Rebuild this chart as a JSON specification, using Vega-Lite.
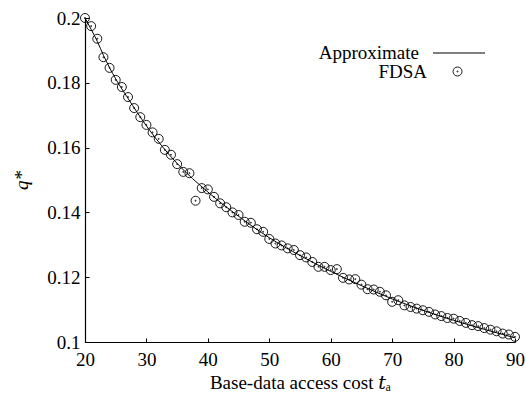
{
  "$schema": "https://vega.github.io/schema/vega-lite/v6.json",
  "autosize": "none",
  "width": 430,
  "height": 324,
  "padding": {"left": 85, "top": 18, "right": 11, "bottom": 54},
  "background": "white",
  "config": {
    "view": {"stroke": null},
    "font": "Liberation Serif, DejaVu Serif, serif",
    "axis": {
      "labelFont": "Liberation Serif, DejaVu Serif, serif",
      "titleFont": "Liberation Serif, DejaVu Serif, serif",
      "labelFontSize": 19,
      "titleFontSize": 19,
      "labelColor": "black",
      "titleColor": "black",
      "titleFontWeight": "normal",
      "domainColor": "black",
      "domainWidth": 1.2,
      "tickColor": "black",
      "tickWidth": 1,
      "tickSize": -4,
      "labelFlush": false,
      "grid": false
    },
    "legend": {
      "labelFont": "Liberation Serif, DejaVu Serif, serif",
      "labelFontSize": 19,
      "labelColor": "black",
      "padding": 0
    }
  },
  "datasets": {
    "approx": [
      {"t": 20, "q": 0.2000, "series": "Approximate"},
      {"t": 21, "q": 0.1965, "series": "Approximate"},
      {"t": 22, "q": 0.1928, "series": "Approximate"},
      {"t": 23, "q": 0.1885, "series": "Approximate"},
      {"t": 25, "q": 0.1812, "series": "Approximate"},
      {"t": 27, "q": 0.1752, "series": "Approximate"},
      {"t": 30, "q": 0.1667, "series": "Approximate"},
      {"t": 35, "q": 0.1551, "series": "Approximate"},
      {"t": 40, "q": 0.1463, "series": "Approximate"},
      {"t": 45, "q": 0.1388, "series": "Approximate"},
      {"t": 50, "q": 0.1322, "series": "Approximate"},
      {"t": 55, "q": 0.1267, "series": "Approximate"},
      {"t": 60, "q": 0.1218, "series": "Approximate"},
      {"t": 65, "q": 0.1174, "series": "Approximate"},
      {"t": 70, "q": 0.1133, "series": "Approximate"},
      {"t": 75, "q": 0.1098, "series": "Approximate"},
      {"t": 80, "q": 0.1067, "series": "Approximate"},
      {"t": 85, "q": 0.1039, "series": "Approximate"},
      {"t": 90, "q": 0.1013, "series": "Approximate"}
    ],
    "fdsa": [
      {"t": 20, "q": 0.2000, "series": "FDSA"},
      {"t": 21, "q": 0.1975, "series": "FDSA"},
      {"t": 22, "q": 0.1936, "series": "FDSA"},
      {"t": 23, "q": 0.1879, "series": "FDSA"},
      {"t": 24, "q": 0.1846, "series": "FDSA"},
      {"t": 25, "q": 0.1809, "series": "FDSA"},
      {"t": 26, "q": 0.1787, "series": "FDSA"},
      {"t": 27, "q": 0.1756, "series": "FDSA"},
      {"t": 28, "q": 0.1722, "series": "FDSA"},
      {"t": 29, "q": 0.1694, "series": "FDSA"},
      {"t": 30, "q": 0.1670, "series": "FDSA"},
      {"t": 31, "q": 0.1647, "series": "FDSA"},
      {"t": 32, "q": 0.1627, "series": "FDSA"},
      {"t": 33, "q": 0.1593, "series": "FDSA"},
      {"t": 34, "q": 0.1578, "series": "FDSA"},
      {"t": 35, "q": 0.1549, "series": "FDSA"},
      {"t": 36, "q": 0.1525, "series": "FDSA"},
      {"t": 37, "q": 0.1521, "series": "FDSA"},
      {"t": 38, "q": 0.1436, "series": "FDSA"},
      {"t": 39, "q": 0.1475, "series": "FDSA"},
      {"t": 40, "q": 0.1471, "series": "FDSA"},
      {"t": 41, "q": 0.1448, "series": "FDSA"},
      {"t": 42, "q": 0.1428, "series": "FDSA"},
      {"t": 43, "q": 0.1416, "series": "FDSA"},
      {"t": 44, "q": 0.1400, "series": "FDSA"},
      {"t": 45, "q": 0.1392, "series": "FDSA"},
      {"t": 46, "q": 0.1371, "series": "FDSA"},
      {"t": 47, "q": 0.1368, "series": "FDSA"},
      {"t": 48, "q": 0.1348, "series": "FDSA"},
      {"t": 49, "q": 0.1340, "series": "FDSA"},
      {"t": 50, "q": 0.1318, "series": "FDSA"},
      {"t": 51, "q": 0.1304, "series": "FDSA"},
      {"t": 52, "q": 0.1298, "series": "FDSA"},
      {"t": 53, "q": 0.1289, "series": "FDSA"},
      {"t": 54, "q": 0.1284, "series": "FDSA"},
      {"t": 55, "q": 0.1268, "series": "FDSA"},
      {"t": 56, "q": 0.1261, "series": "FDSA"},
      {"t": 57, "q": 0.1247, "series": "FDSA"},
      {"t": 58, "q": 0.1232, "series": "FDSA"},
      {"t": 59, "q": 0.1232, "series": "FDSA"},
      {"t": 60, "q": 0.1222, "series": "FDSA"},
      {"t": 61, "q": 0.1225, "series": "FDSA"},
      {"t": 62, "q": 0.1198, "series": "FDSA"},
      {"t": 63, "q": 0.1193, "series": "FDSA"},
      {"t": 64, "q": 0.1194, "series": "FDSA"},
      {"t": 65, "q": 0.1177, "series": "FDSA"},
      {"t": 66, "q": 0.1163, "series": "FDSA"},
      {"t": 67, "q": 0.1162, "series": "FDSA"},
      {"t": 68, "q": 0.1155, "series": "FDSA"},
      {"t": 69, "q": 0.1144, "series": "FDSA"},
      {"t": 70, "q": 0.1124, "series": "FDSA"},
      {"t": 71, "q": 0.1129, "series": "FDSA"},
      {"t": 72, "q": 0.1113, "series": "FDSA"},
      {"t": 73, "q": 0.1108, "series": "FDSA"},
      {"t": 74, "q": 0.1103, "series": "FDSA"},
      {"t": 75, "q": 0.1098, "series": "FDSA"},
      {"t": 76, "q": 0.1093, "series": "FDSA"},
      {"t": 77, "q": 0.1085, "series": "FDSA"},
      {"t": 78, "q": 0.1080, "series": "FDSA"},
      {"t": 79, "q": 0.1074, "series": "FDSA"},
      {"t": 80, "q": 0.1072, "series": "FDSA"},
      {"t": 81, "q": 0.1065, "series": "FDSA"},
      {"t": 82, "q": 0.1059, "series": "FDSA"},
      {"t": 83, "q": 0.1052, "series": "FDSA"},
      {"t": 84, "q": 0.1049, "series": "FDSA"},
      {"t": 85, "q": 0.1043, "series": "FDSA"},
      {"t": 86, "q": 0.1038, "series": "FDSA"},
      {"t": 87, "q": 0.1033, "series": "FDSA"},
      {"t": 88, "q": 0.1026, "series": "FDSA"},
      {"t": 89, "q": 0.1023, "series": "FDSA"},
      {"t": 90, "q": 0.1016, "series": "FDSA"}
    ]
  },
  "encoding": {
    "x": {
      "field": "t",
      "type": "quantitative",
      "scale": {"domain": [20, 90], "nice": false, "zero": false},
      "axis": {
        "title": "Base-data access cost 𝑡ₐ",
        "values": [20, 30, 40, 50, 60, 70, 80, 90],
        "labelPadding": 12,
        "titlePadding": 4
      }
    },
    "y": {
      "field": "q",
      "type": "quantitative",
      "scale": {"domain": [0.1, 0.2], "nice": false, "zero": false},
      "axis": {
        "title": "q*",
        "titleFontStyle": "italic",
        "values": [0.1, 0.12, 0.14, 0.16, 0.18, 0.2],
        "format": ".2~f",
        "labelPadding": 9,
        "titleX": -64,
        "titleY": 162,
        "titleAlign": "center",
        "titleBaseline": "middle"
      }
    }
  },
  "layer": [
    {
      "data": {"name": "approx"},
      "mark": {"type": "line", "interpolate": "monotone", "strokeWidth": 1, "clip": false},
      "encoding": {
        "color": {
          "field": "series",
          "type": "nominal",
          "scale": {"range": ["black"]},
          "legend": {
            "title": null,
            "orient": "none",
            "legendX": 347,
            "legendY": 8,
            "symbolType": "stroke",
            "symbolSize": 2704,
            "symbolStrokeWidth": 1.2,
            "labelAlign": "right",
            "labelOffset": -67
          }
        }
      }
    },
    {
      "data": {"name": "fdsa"},
      "mark": {"type": "point", "filled": false, "stroke": "black", "strokeWidth": 0.9, "opacity": 1, "size": 81, "clip": false},
      "encoding": {
        "shape": {
          "field": "series",
          "type": "nominal",
          "scale": {"range": ["M-1,0A1,1,0,1,1,1,0A1,1,0,1,1,-1,0ZM-0.12,0A0.12,0.12,0,1,1,0.12,0A0.12,0.12,0,1,1,-0.12,0Z"]},
          "legend": {
            "title": null,
            "orient": "none",
            "legendX": 363,
            "legendY": 44,
            "symbolSize": 81,
            "symbolStrokeColor": "black",
            "symbolFillColor": "transparent",
            "symbolStrokeWidth": 0.9,
            "labelAlign": "right",
            "labelOffset": -40
          }
        }
      }
    }
  ]
}
